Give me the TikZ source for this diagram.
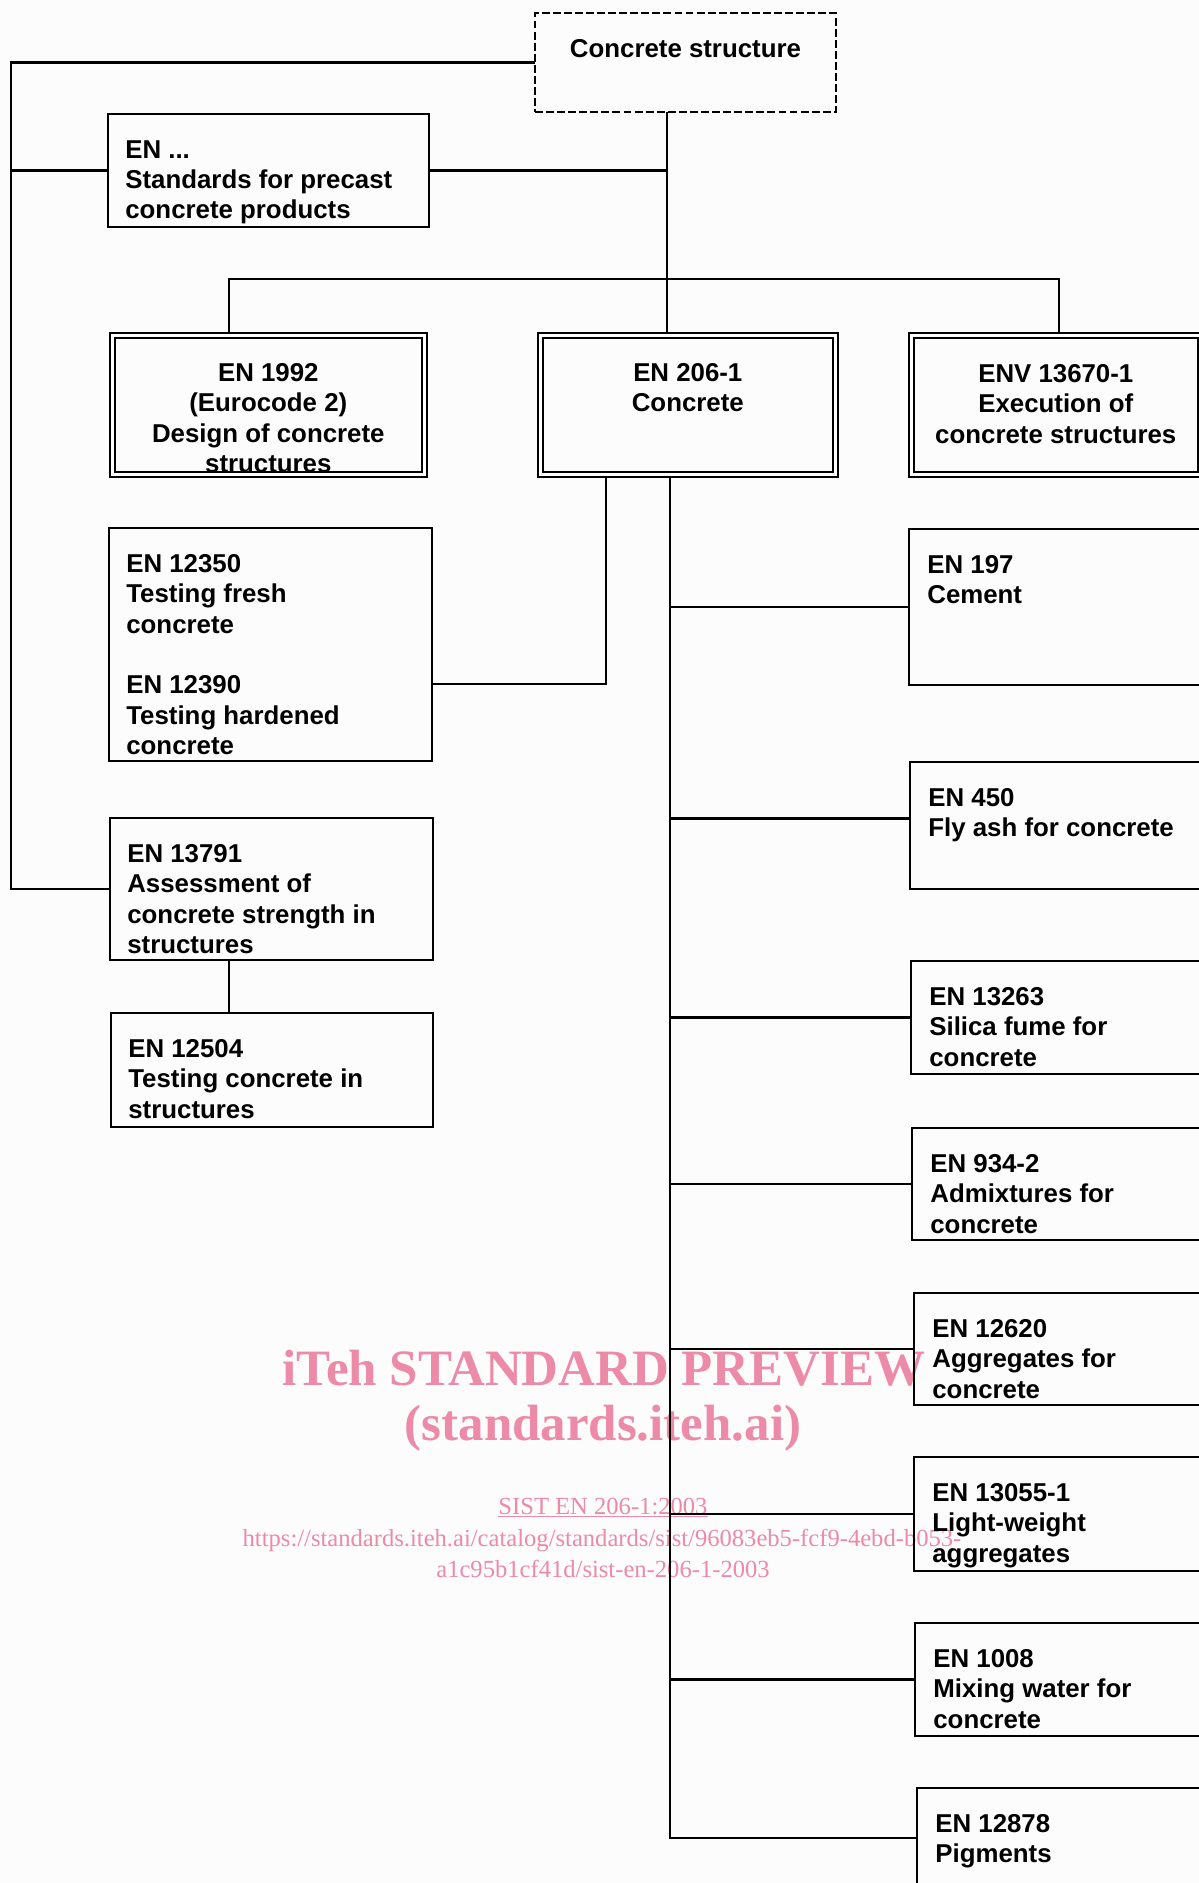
\documentclass[tikz,border=0pt]{standalone}
\usepackage{fontspec}
\setmainfont{Liberation Sans}
\newfontfamily\wmfont{Liberation Serif}
\usetikzlibrary{positioning}
\definecolor{wmpink}{RGB}{236,138,168}
\definecolor{paper}{RGB}{252,252,252}

\begin{document}
\begin{tikzpicture}[x=0.02cm,y=0.02cm,
  link/.style={line width=1.35pt},
  stdbox/.style={draw,line width=1.5pt,inner sep=0,outer sep=0,anchor=north west},
  keybox/.style={draw,double,line width=1.2pt,double distance=1.4pt,inner sep=0,outer sep=1.9pt,anchor=north west},
  rootbox/.style={draw,dash pattern=on 4.5pt off 1.8pt,line width=1.3pt,inner sep=0,outer sep=0,anchor=north west},
  lefttext/.style={anchor=north west,inner sep=0,align=left,font=\bfseries\fontsize{14.7}{17.3}\selectfont},
  midtext/.style={anchor=north,inner sep=0,align=center,font=\bfseries\fontsize{14.7}{17.3}\selectfont},
  wmbig/.style={text=wmpink,inner sep=0,anchor=base,font=\wmfont\bfseries\fontsize{29}{30}\selectfont},
  wmsmall/.style={text=wmpink,inner sep=0,anchor=base,font=\wmfont\fontsize{14}{15}\selectfont}]

\useasboundingbox (0,0) rectangle (1199,-1883);
\fill[paper] (0,0) rectangle (1199,-1883);
\clip (0,0) rectangle (1199,-1883);

% watermark
\node[wmbig] (wm1) at (604,-1385) {iTeh STANDARD PREVIEW};
\node[wmbig] (wm2) at (603,-1440) {(standards.iteh.ai)};
\node[wmsmall] (wm3) at (603,-1514) {\underline{SIST EN 206-1:2003}};
\node[wmsmall] (wm4) at (602,-1546) {https://standards.iteh.ai/catalog/standards/sist/96083eb5-fcf9-4ebd-b053-};
\node[wmsmall] (wm5) at (603,-1577) {a1c95b1cf41d/sist-en-206-1-2003};

% top and left column
\node[rootbox, minimum width=6.02cm, minimum height=1.98cm] (top) at (535,-13) {};
\node[midtext] (top-t) at ([shift={(0,-26)}]top.north) {Concrete structure};

\node[stdbox, minimum width=6.42cm, minimum height=2.26cm] (precast) at (108,-114) {};
\node[lefttext] (precast-t) at ([shift={(17,-26)}]precast.north west) {EN ...\\Standards for precast\\concrete products};

\node[stdbox, minimum width=6.46cm, minimum height=4.66cm] (test) at (109,-528) {};
\node[lefttext] (test-t) at ([shift={(17,-26)}]test.north west) {EN 12350\\Testing fresh\\concrete\\[17.3pt]EN 12390\\Testing hardened\\concrete};

\node[stdbox, minimum width=6.46cm, minimum height=2.84cm] (en13791) at (110,-818) {};
\node[lefttext] (en13791-t) at ([shift={(17,-26)}]en13791.north west) {EN 13791\\Assessment of\\concrete strength in\\structures};

\node[stdbox, minimum width=6.44cm, minimum height=2.28cm] (en12504) at (111,-1013) {};
\node[lefttext] (en12504-t) at ([shift={(17,-26)}]en12504.north west) {EN 12504\\Testing concrete in\\structures};

% the three main standards
\node[keybox, minimum width=6.24cm, minimum height=2.78cm] (ec2) at (109,-332) {};
\node[midtext] (ec2-t) at ([shift={(0,-31)}]ec2.north) {EN 1992\\(Eurocode 2)\\Design of concrete\\structures};

\node[keybox, minimum width=5.90cm, minimum height=2.78cm] (en206) at (537,-332) {};
\node[midtext] (en206-t) at ([shift={(0,-31)}]en206.north) {EN 206-1\\Concrete};

\node[keybox, minimum width=5.78cm, minimum height=2.78cm] (env) at (908,-332) {};
\node[midtext] (env-t) at ([shift={(0,-32)}]env.north) {ENV 13670-1\\Execution of\\concrete structures};

% constituents
\node[stdbox, minimum width=6.2cm, minimum height=3.12cm] (en197) at (909,-529) {};
\node[lefttext] (en197-t) at ([shift={(18,-26)}]en197.north west) {EN 197\\Cement};

\node[stdbox, minimum width=6.2cm, minimum height=2.54cm] (en450) at (910,-762) {};
\node[lefttext] (en450-t) at ([shift={(18,-26)}]en450.north west) {EN 450\\Fly ash for concrete};

\node[stdbox, minimum width=6.2cm, minimum height=2.26cm] (en13263) at (911,-961) {};
\node[lefttext] (en13263-t) at ([shift={(18,-26)}]en13263.north west) {EN 13263\\Silica fume for\\concrete};

\node[stdbox, minimum width=6.2cm, minimum height=2.24cm] (en934) at (912,-1128) {};
\node[lefttext] (en934-t) at ([shift={(18,-26)}]en934.north west) {EN 934-2\\Admixtures for\\concrete};

\node[stdbox, minimum width=6.2cm, minimum height=2.24cm] (en12620) at (914,-1293) {};
\node[lefttext] (en12620-t) at ([shift={(18,-26)}]en12620.north west) {EN 12620\\Aggregates for\\concrete};

\node[stdbox, minimum width=6.2cm, minimum height=2.28cm] (en13055) at (914,-1457) {};
\node[lefttext] (en13055-t) at ([shift={(18,-26)}]en13055.north west) {EN 13055-1\\Light-weight\\aggregates};

\node[stdbox, minimum width=6.2cm, minimum height=2.26cm] (en1008) at (915,-1623) {};
\node[lefttext] (en1008-t) at ([shift={(18,-26)}]en1008.north west) {EN 1008\\Mixing water for\\concrete};

\node[stdbox, minimum width=6.2cm, minimum height=2.00cm] (en12878) at (917,-1788) {};
\node[lefttext] (en12878-t) at ([shift={(18,-26)}]en12878.north west) {EN 12878\\Pigments};

% connectors
\coordinate (leftrail) at (11,0);
\coordinate (spine) at (667,0);
\coordinate (busl) at (229,-279);
\coordinate (busr) at (1059,-279);
\coordinate (labtap) at (606,-684);
\coordinate (trunk) at (670,0);
\coordinate (en450tap) at ([yshift=4pt]en450.west);

\draw[link] (top.west) -- (top.west -| leftrail) |- (en13791.west);
\draw[link] (precast.west) -- (precast.west -| leftrail);
\draw[link] (precast.east) -- (precast.east -| spine);
\draw[link] (top.south -| spine) -- (en206.north -| spine);
\draw[link] (ec2.north -| busl) |- (busr) -- (env.north -| busr);
\draw[link] (en206.south -| labtap) |- (test.east |- labtap);
\draw[link] (en13791.south -| busl) -- (en12504.north -| busl);

\draw[link] (en206.south -| trunk) |- (en12878.west);
\foreach \b in {en197,en13263,en934,en12620,en13055,en1008}
  \draw[link] (trunk |- \b.west) -- (\b.west);
\draw[link] (trunk |- en450tap) -- (en450tap);

\end{tikzpicture}
\end{document}
